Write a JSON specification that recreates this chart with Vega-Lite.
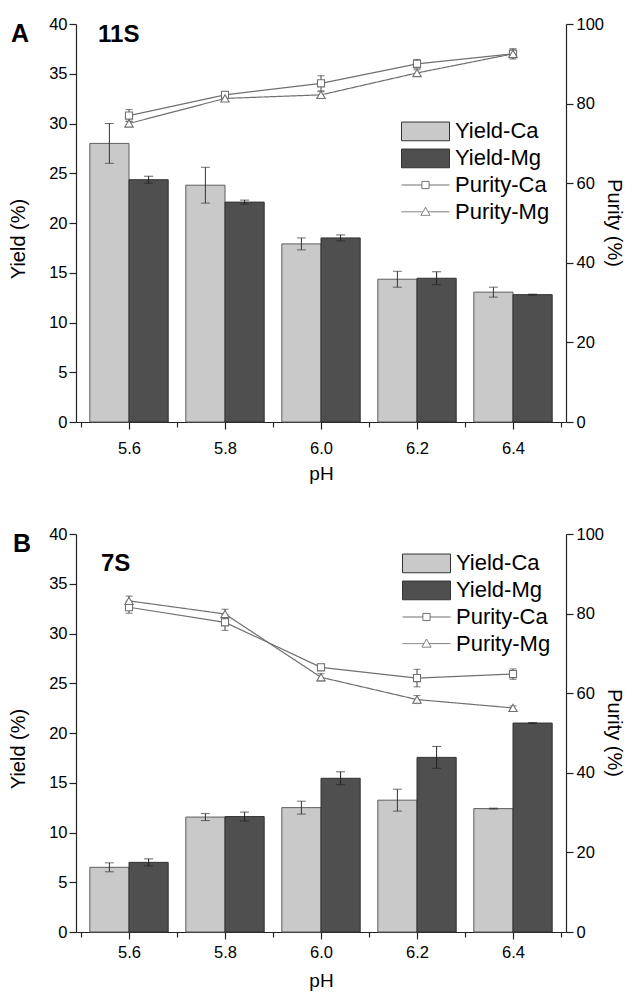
{
  "$schema": "https://vega.github.io/schema/vega-lite/v6.json",
  "background": "white",
  "padding": {"left": 8, "top": 16, "right": 12, "bottom": 4},
  "spacing": 42,
  "config": {
    "view": {"stroke": null},
    "font": "Liberation Sans",
    "axis": {
      "grid": false,
      "domainColor": "#222222",
      "tickColor": "#222222",
      "domainWidth": 1.2,
      "tickWidth": 1.2,
      "labelColor": "black",
      "titleColor": "black",
      "labelFont": "Liberation Sans",
      "titleFont": "Liberation Sans",
      "labelFontSize": 16.5,
      "titleFontSize": 20,
      "titleFontWeight": "normal"
    },
    "legend": {
      "labelFont": "Liberation Sans",
      "labelFontSize": 22,
      "labelColor": "black",
      "title": null,
      "orient": "none",
      "padding": 0,
      "rowPadding": 0,
      "clipHeight": 26.8,
      "symbolSize": 2304,
      "labelOffset": 5,
      "labelBaseline": "middle",
      "symbolStrokeWidth": 1,
      "symbolOpacity": 1
    }
  },
  "datasets": {
    "A": [
      {"pH": 5.6, "ion": "Ca", "yield": 28.0, "yield_err": 2.0, "purity": 77.0, "purity_err": 1.5},
      {"pH": 5.6, "ion": "Mg", "yield": 24.35, "yield_err": 0.35, "purity": 75.0, "purity_err": 0.6},
      {"pH": 5.8, "ion": "Ca", "yield": 23.8, "yield_err": 1.8, "purity": 82.2, "purity_err": 0.8},
      {"pH": 5.8, "ion": "Mg", "yield": 22.1, "yield_err": 0.2, "purity": 81.3, "purity_err": 0.7},
      {"pH": 6.0, "ion": "Ca", "yield": 17.9, "yield_err": 0.6, "purity": 85.1, "purity_err": 1.9},
      {"pH": 6.0, "ion": "Mg", "yield": 18.5, "yield_err": 0.3, "purity": 82.2, "purity_err": 0.8},
      {"pH": 6.2, "ion": "Ca", "yield": 14.35, "yield_err": 0.8, "purity": 90.0, "purity_err": 1.1},
      {"pH": 6.2, "ion": "Mg", "yield": 14.45, "yield_err": 0.65, "purity": 87.7, "purity_err": 0.8},
      {"pH": 6.4, "ion": "Ca", "yield": 13.05, "yield_err": 0.5, "purity": 92.5, "purity_err": 1.3},
      {"pH": 6.4, "ion": "Mg", "yield": 12.8, "yield_err": 0.05, "purity": 92.5, "purity_err": 1.0}
    ],
    "B": [
      {"pH": 5.6, "ion": "Ca", "yield": 6.5, "yield_err": 0.45, "purity": 81.6, "purity_err": 1.5},
      {"pH": 5.6, "ion": "Mg", "yield": 7.0, "yield_err": 0.35, "purity": 83.2, "purity_err": 1.2},
      {"pH": 5.8, "ion": "Ca", "yield": 11.55, "yield_err": 0.35, "purity": 77.8, "purity_err": 2.0},
      {"pH": 5.8, "ion": "Mg", "yield": 11.6, "yield_err": 0.45, "purity": 79.9, "purity_err": 1.2},
      {"pH": 6.0, "ion": "Ca", "yield": 12.5, "yield_err": 0.65, "purity": 66.5, "purity_err": 0.8},
      {"pH": 6.0, "ion": "Mg", "yield": 15.45, "yield_err": 0.65, "purity": 64.0, "purity_err": 0.9},
      {"pH": 6.2, "ion": "Ca", "yield": 13.25, "yield_err": 1.1, "purity": 63.8, "purity_err": 2.2},
      {"pH": 6.2, "ion": "Mg", "yield": 17.55, "yield_err": 1.1, "purity": 58.4, "purity_err": 1.0},
      {"pH": 6.4, "ion": "Ca", "yield": 12.4, "yield_err": 0.05, "purity": 64.8, "purity_err": 1.3},
      {"pH": 6.4, "ion": "Mg", "yield": 21.0, "yield_err": 0.05, "purity": 56.3, "purity_err": 0.5}
    ]
  },
  "resolve": {
    "scale": {"fill": "independent", "stroke": "independent", "strokeDash": "independent", "x": "independent", "y": "independent"},
    "legend": {"fill": "independent", "stroke": "independent", "strokeDash": "independent"}
  },
  "vconcat": [
    {
      "width": 490,
      "height": 398,
      "data": {"name": "A"},
      "title": {"text": "A", "anchor": "start", "frame": "bounds", "fontSize": 25, "fontWeight": "bold", "font": "Liberation Sans", "color": "black", "offset": 0, "dx": 3, "dy": 31},
      "layer": [
        {
          "layer": [
            {
              "transform": [{"filter": "datum.ion == 'Ca'"}],
              "mark": {"type": "bar", "width": 39.2, "xOffset": -19.6, "stroke": "#5e5e5e", "strokeWidth": 1},
              "encoding": {
                "x": {"field": "pH", "type": "quantitative", "title": "pH", "scale": {"domain": [5.5, 6.5], "nice": false, "zero": false},
                  "axis": {"values": [5.5, 5.6, 5.7, 5.8, 5.9, 6.0, 6.1, 6.2, 6.3, 6.4, 6.5], "labelExpr": "round(datum.value*10) % 2 == 0 ? format(datum.value, '.1f') : ''", "tickSize": {"condition": {"test": "round(datum.value*10) % 2 == 0", "value": 7}, "value": 5}, "labelPadding": 11, "labelFlush": false, "labelOverlap": false, "titleFontSize": 19, "titleY": 42.5, "titleBaseline": "top"}},
                "y": {"field": "yield", "type": "quantitative", "title": "Yield (%)", "scale": {"domain": [0, 40], "nice": false},
                  "axis": {"values": [0, 2.5, 5, 7.5, 10, 12.5, 15, 17.5, 20, 22.5, 25, 27.5, 30, 32.5, 35, 37.5, 40], "labelExpr": "datum.value % 5 == 0 ? datum.label : ''", "tickSize": {"condition": {"test": "datum.value % 5 == 0", "value": 7}, "value": 4}, "labelPadding": 2, "labelOverlap": false, "titleX": -58, "titleY": 214.5, "titleBaseline": "middle"}},
                "fill": {"datum": "Yield-Ca", "type": "nominal",
                  "scale": {"domain": ["Yield-Ca", "Yield-Mg"], "range": ["#c9c9c9", "#4f4f4f"]},
                  "legend": {"legendX": 325, "legendY": 94, "symbolType": "M-1,-0.39H1V0.39H-1Z", "symbolStrokeColor": "#4a4a4a"}}
              }
            },
            {
              "transform": [{"filter": "datum.ion == 'Mg'"}],
              "mark": {"type": "bar", "width": 39.2, "xOffset": 19.6, "stroke": "#333333", "strokeWidth": 1},
              "encoding": {
                "x": {"field": "pH", "type": "quantitative", "title": "pH"},
                "y": {"field": "yield", "type": "quantitative", "title": "Yield (%)"},
                "fill": {"datum": "Yield-Mg", "type": "nominal"}
              }
            },
            {
              "transform": [{"filter": "datum.ion == 'Ca'"}],
              "mark": {"type": "errorbar", "color": "#333333", "thickness": 1, "ticks": {"size": 9, "xOffset": -19.6}, "rule": {"xOffset": -19.6}},
              "encoding": {
                "x": {"field": "pH", "type": "quantitative", "title": "pH"},
                "y": {"field": "yield", "type": "quantitative", "title": "Yield (%)"},
                "yError": {"field": "yield_err"}
              }
            },
            {
              "transform": [{"filter": "datum.ion == 'Mg'"}],
              "mark": {"type": "errorbar", "color": "#222222", "thickness": 1, "ticks": {"size": 9, "xOffset": 19.6}, "rule": {"xOffset": 19.6}},
              "encoding": {
                "x": {"field": "pH", "type": "quantitative", "title": "pH"},
                "y": {"field": "yield", "type": "quantitative", "title": "Yield (%)"},
                "yError": {"field": "yield_err"}
              }
            },
            {
              "data": {"values": [{"name": "11S"}]},
              "mark": {"type": "text", "align": "left", "baseline": "alphabetic", "fontSize": 24, "fontWeight": "bold", "font": "Liberation Sans", "color": "black"},
              "encoding": {
                "x": {"datum": 5.5355, "type": "quantitative"},
                "y": {"datum": 38.2, "type": "quantitative"},
                "text": {"field": "name"}
              }
            }
          ]
        },
        {
          "layer": [
            {
              "transform": [{"filter": "datum.ion == 'Ca'"}],
              "mark": {"type": "line", "strokeWidth": 1.2},
              "encoding": {
                "x": {"field": "pH", "type": "quantitative", "title": "pH"},
                "y": {"field": "purity", "type": "quantitative", "title": "Purity (%)", "scale": {"domain": [0, 100], "nice": false},
                  "axis": {"orient": "right", "values": [0, 5, 10, 15, 20, 25, 30, 35, 40, 45, 50, 55, 60, 65, 70, 75, 80, 85, 90, 95, 100], "labelExpr": "datum.value % 10 == 0 ? datum.label : ''", "tickSize": {"condition": {"test": "datum.value % 10 == 0", "value": 7}, "value": 4}, "labelPadding": 3, "labelOverlap": false, "titleX": 47, "titleY": 198.5, "titleBaseline": "middle"}},
                "stroke": {"datum": "Purity-Ca", "type": "nominal",
                  "scale": {"domain": ["Purity-Ca"], "range": ["#707070"]},
                  "legend": {"legendX": 325, "legendY": 147.6, "symbolType": "M-1,0H-0.15M0.15,0H1M-0.15,-0.15H0.15V0.15H-0.15Z", "symbolFillColor": "white", "symbolStrokeColor": "#707070"}}
              }
            },
            {
              "transform": [{"filter": "datum.ion == 'Mg'"}],
              "mark": {"type": "line", "strokeWidth": 1.2, "stroke": "#707070"},
              "encoding": {
                "x": {"field": "pH", "type": "quantitative", "title": "pH"},
                "y": {"field": "purity", "type": "quantitative", "title": "Purity (%)"},
                "strokeDash": {"datum": "Purity-Mg", "type": "nominal",
                  "scale": {"domain": ["Purity-Mg"], "range": [[1, 0]]},
                  "legend": {"legendX": 325, "legendY": 174.4, "symbolType": "M-1,0H-0.11M0.11,0H1M0,-0.19L0.19,0.15H-0.19Z", "symbolFillColor": "white", "symbolStrokeColor": "#707070"}}
              }
            },
            {
              "mark": {"type": "errorbar", "color": "#444444", "thickness": 1, "ticks": {"size": 7}},
              "encoding": {
                "x": {"field": "pH", "type": "quantitative", "title": "pH"},
                "y": {"field": "purity", "type": "quantitative", "title": "Purity (%)"},
                "yError": {"field": "purity_err"}
              }
            },
            {
              "transform": [{"filter": "datum.ion == 'Ca'"}],
              "mark": {"type": "point", "shape": "square", "size": 50, "filled": false, "fill": "white", "strokeWidth": 1.1, "opacity": 1},
              "encoding": {
                "x": {"field": "pH", "type": "quantitative", "title": "pH"},
                "y": {"field": "purity", "type": "quantitative", "title": "Purity (%)"},
                "stroke": {"datum": "Purity-Ca", "type": "nominal"}
              }
            },
            {
              "transform": [{"filter": "datum.ion == 'Mg'"}],
              "mark": {"type": "point", "shape": "triangle-up", "size": 70, "filled": false, "fill": "white", "stroke": "#707070", "strokeWidth": 1.1, "opacity": 1},
              "encoding": {
                "x": {"field": "pH", "type": "quantitative", "title": "pH"},
                "y": {"field": "purity", "type": "quantitative", "title": "Purity (%)"},
                "strokeDash": {"datum": "Purity-Mg", "type": "nominal"}
              }
            }
          ]
        }
      ],
      "resolve": {"scale": {"y": "independent"}}
    },
    {
      "width": 490,
      "height": 398,
      "data": {"name": "B"},
      "title": {"text": "B", "anchor": "start", "frame": "bounds", "fontSize": 25, "fontWeight": "bold", "font": "Liberation Sans", "color": "black", "offset": 0, "dx": 5, "dy": 31},
      "layer": [
        {
          "layer": [
            {
              "transform": [{"filter": "datum.ion == 'Ca'"}],
              "mark": {"type": "bar", "width": 39.2, "xOffset": -19.6, "stroke": "#5e5e5e", "strokeWidth": 1},
              "encoding": {
                "x": {"field": "pH", "type": "quantitative", "title": "pH", "scale": {"domain": [5.5, 6.5], "nice": false, "zero": false},
                  "axis": {"values": [5.5, 5.6, 5.7, 5.8, 5.9, 6.0, 6.1, 6.2, 6.3, 6.4, 6.5], "labelExpr": "round(datum.value*10) % 2 == 0 ? format(datum.value, '.1f') : ''", "tickSize": {"condition": {"test": "round(datum.value*10) % 2 == 0", "value": 7}, "value": 5}, "labelPadding": 5, "labelFlush": false, "labelOverlap": false, "titleFontSize": 19, "titleY": 39.5, "titleBaseline": "top"}},
                "y": {"field": "yield", "type": "quantitative", "title": "Yield (%)", "scale": {"domain": [0, 40], "nice": false},
                  "axis": {"values": [0, 2.5, 5, 7.5, 10, 12.5, 15, 17.5, 20, 22.5, 25, 27.5, 30, 32.5, 35, 37.5, 40], "labelExpr": "datum.value % 5 == 0 ? datum.label : ''", "tickSize": {"condition": {"test": "datum.value % 5 == 0", "value": 7}, "value": 4}, "labelPadding": 2, "labelOverlap": false, "titleX": -58, "titleY": 214.5, "titleBaseline": "middle"}},
                "fill": {"datum": "Yield-Ca", "type": "nominal",
                  "scale": {"domain": ["Yield-Ca", "Yield-Mg"], "range": ["#c9c9c9", "#4f4f4f"]},
                  "legend": {"legendX": 326, "legendY": 16, "symbolType": "M-1,-0.39H1V0.39H-1Z", "symbolStrokeColor": "#4a4a4a"}}
              }
            },
            {
              "transform": [{"filter": "datum.ion == 'Mg'"}],
              "mark": {"type": "bar", "width": 39.2, "xOffset": 19.6, "stroke": "#333333", "strokeWidth": 1},
              "encoding": {
                "x": {"field": "pH", "type": "quantitative", "title": "pH"},
                "y": {"field": "yield", "type": "quantitative", "title": "Yield (%)"},
                "fill": {"datum": "Yield-Mg", "type": "nominal"}
              }
            },
            {
              "transform": [{"filter": "datum.ion == 'Ca'"}],
              "mark": {"type": "errorbar", "color": "#333333", "thickness": 1, "ticks": {"size": 9, "xOffset": -19.6}, "rule": {"xOffset": -19.6}},
              "encoding": {
                "x": {"field": "pH", "type": "quantitative", "title": "pH"},
                "y": {"field": "yield", "type": "quantitative", "title": "Yield (%)"},
                "yError": {"field": "yield_err"}
              }
            },
            {
              "transform": [{"filter": "datum.ion == 'Mg'"}],
              "mark": {"type": "errorbar", "color": "#222222", "thickness": 1, "ticks": {"size": 9, "xOffset": 19.6}, "rule": {"xOffset": 19.6}},
              "encoding": {
                "x": {"field": "pH", "type": "quantitative", "title": "pH"},
                "y": {"field": "yield", "type": "quantitative", "title": "Yield (%)"},
                "yError": {"field": "yield_err"}
              }
            },
            {
              "data": {"values": [{"name": "7S"}]},
              "mark": {"type": "text", "align": "left", "baseline": "alphabetic", "fontSize": 24, "fontWeight": "bold", "font": "Liberation Sans", "color": "black"},
              "encoding": {
                "x": {"datum": 5.5415, "type": "quantitative"},
                "y": {"datum": 36.3, "type": "quantitative"},
                "text": {"field": "name"}
              }
            }
          ]
        },
        {
          "layer": [
            {
              "transform": [{"filter": "datum.ion == 'Ca'"}],
              "mark": {"type": "line", "strokeWidth": 1.2},
              "encoding": {
                "x": {"field": "pH", "type": "quantitative", "title": "pH"},
                "y": {"field": "purity", "type": "quantitative", "title": "Purity (%)", "scale": {"domain": [0, 100], "nice": false},
                  "axis": {"orient": "right", "values": [0, 5, 10, 15, 20, 25, 30, 35, 40, 45, 50, 55, 60, 65, 70, 75, 80, 85, 90, 95, 100], "labelExpr": "datum.value % 10 == 0 ? datum.label : ''", "tickSize": {"condition": {"test": "datum.value % 10 == 0", "value": 7}, "value": 4}, "labelPadding": 3, "labelOverlap": false, "titleX": 47, "titleY": 198.5, "titleBaseline": "middle"}},
                "stroke": {"datum": "Purity-Ca", "type": "nominal",
                  "scale": {"domain": ["Purity-Ca"], "range": ["#707070"]},
                  "legend": {"legendX": 326, "legendY": 69.6, "symbolType": "M-1,0H-0.15M0.15,0H1M-0.15,-0.15H0.15V0.15H-0.15Z", "symbolFillColor": "white", "symbolStrokeColor": "#707070"}}
              }
            },
            {
              "transform": [{"filter": "datum.ion == 'Mg'"}],
              "mark": {"type": "line", "strokeWidth": 1.2, "stroke": "#707070"},
              "encoding": {
                "x": {"field": "pH", "type": "quantitative", "title": "pH"},
                "y": {"field": "purity", "type": "quantitative", "title": "Purity (%)"},
                "strokeDash": {"datum": "Purity-Mg", "type": "nominal",
                  "scale": {"domain": ["Purity-Mg"], "range": [[1, 0]]},
                  "legend": {"legendX": 326, "legendY": 96.2, "symbolType": "M-1,0H-0.11M0.11,0H1M0,-0.19L0.19,0.15H-0.19Z", "symbolFillColor": "white", "symbolStrokeColor": "#707070"}}
              }
            },
            {
              "mark": {"type": "errorbar", "color": "#444444", "thickness": 1, "ticks": {"size": 7}},
              "encoding": {
                "x": {"field": "pH", "type": "quantitative", "title": "pH"},
                "y": {"field": "purity", "type": "quantitative", "title": "Purity (%)"},
                "yError": {"field": "purity_err"}
              }
            },
            {
              "transform": [{"filter": "datum.ion == 'Ca'"}],
              "mark": {"type": "point", "shape": "square", "size": 50, "filled": false, "fill": "white", "strokeWidth": 1.1, "opacity": 1},
              "encoding": {
                "x": {"field": "pH", "type": "quantitative", "title": "pH"},
                "y": {"field": "purity", "type": "quantitative", "title": "Purity (%)"},
                "stroke": {"datum": "Purity-Ca", "type": "nominal"}
              }
            },
            {
              "transform": [{"filter": "datum.ion == 'Mg'"}],
              "mark": {"type": "point", "shape": "triangle-up", "size": 70, "filled": false, "fill": "white", "stroke": "#707070", "strokeWidth": 1.1, "opacity": 1},
              "encoding": {
                "x": {"field": "pH", "type": "quantitative", "title": "pH"},
                "y": {"field": "purity", "type": "quantitative", "title": "Purity (%)"},
                "strokeDash": {"datum": "Purity-Mg", "type": "nominal"}
              }
            }
          ]
        }
      ],
      "resolve": {"scale": {"y": "independent"}}
    }
  ]
}
